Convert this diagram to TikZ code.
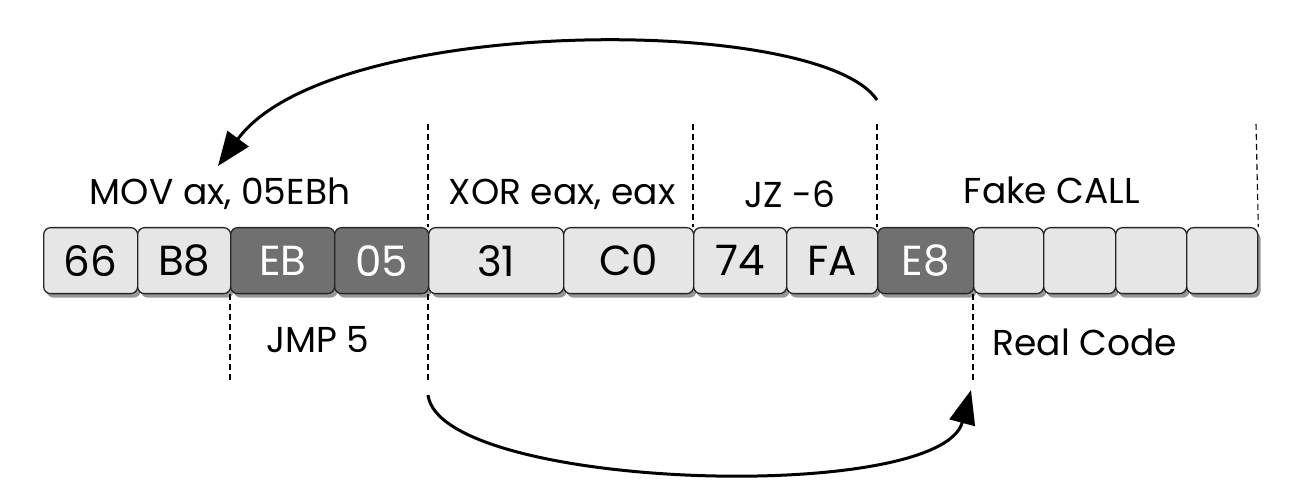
\documentclass[tikz,border=0pt]{standalone}
\usepackage{fontspec}
\setmainfont{Poppins}
\usetikzlibrary{shadows,arrows.meta}
\definecolor{lightbox}{RGB}{230,230,230}
\definecolor{darkbox}{RGB}{112,112,112}
\definecolor{shadowgray}{RGB}{150,150,150}
\begin{document}
\begin{tikzpicture}[x=1pt,y=-1pt,
  byte/.style={draw=black!85, line width=1.3pt, rounded corners=7pt, minimum height=66pt,
     inner sep=0pt, anchor=north west, font=\fontsize{42}{46}\selectfont,
     drop shadow={shadow xshift=3pt, shadow yshift=-4pt, fill=shadowgray, opacity=1}},
  lite/.style={byte, fill=lightbox, text=black},
  dark/.style={byte, fill=darkbox, text=white},
  lbl/.style={font=\fontsize{36}{40}\selectfont, inner sep=0pt},
  sep/.style={line width=1.1pt, dash pattern=on 6pt off 4pt},
  jump/.style={line width=3pt, -{Triangle[length=34pt,width=26pt]}}]
\useasboundingbox (0,0) rectangle (1313,502);
% bytes
\node[lite, minimum width=94pt] (b66) at (43,227) {66};
\node[lite, minimum width=93pt] (bB8) at (137,227) {B8};
\node[dark, minimum width=104pt] (bEB) at (230,227) {EB};
\node[dark, minimum width=94pt] (b05) at (334,227) {05};
\node[lite, minimum width=135pt] (b31) at (428,227) {31};
\node[lite, minimum width=130pt] (bC0) at (563,227) {C0};
\node[lite, minimum width=93pt] (b74) at (693,227) {74};
\node[lite, minimum width=91pt] (bFA) at (786,227) {FA};
\node[dark, minimum width=96pt] (bE8) at (877,227) {E8};
\node[lite, minimum width=70pt] (e1) at (973,227) {};
\node[lite, minimum width=72pt] (e2) at (1043,227) {};
\node[lite, minimum width=71pt] (e3) at (1115,227) {};
\node[lite, minimum width=71pt] (e4) at (1186,227) {};
% separators
\coordinate (s1t) at (428,124);
\coordinate (s2t) at (693,124);
\coordinate (s3t) at (877,124);
\coordinate (s4t) at (1256,124);
\coordinate (d1b) at (230,382);
\coordinate (d2b) at (428,382);
\coordinate (d3b) at (973,382);
\draw[sep] (s1t) -- (b31.north west);
\draw[sep] (s2t) -- (b74.north west);
\draw[sep] (s3t) -- (bE8.north west);
\draw[sep] (s4t) -- (e4.north east);
\draw[sep] (bEB.south west) -- (d1b);
\draw[sep] (b31.south west) -- (d2b);
\draw[sep] (e1.south west) -- (d3b);
% labels
\node[lbl] (mov) at (220,194) {MOV ax, 05EBh};
\node[lbl] (xor) at (562,194) {XOR eax, eax};
\node[lbl] (jz) at (790,194) {JZ -6};
\node[lbl] (fake) at (1052,190) {Fake CALL};
\node[lbl] (jmp) at (318,340) {JMP 5};
\node[lbl] (real) at (1085,342) {Real Code};
% arrows
\coordinate (a1s) at (877,100);
\coordinate (a1e) at (218,166);
\coordinate (a2s) at (428,395);
\coordinate (a2e) at (971,390);
\draw[jump] (a1s) .. controls (820,14) and (330,14) .. (a1e);
\draw[jump] (a2s) .. controls (440,490) and (940,505) .. (a2e);
\end{tikzpicture}
\end{document}
